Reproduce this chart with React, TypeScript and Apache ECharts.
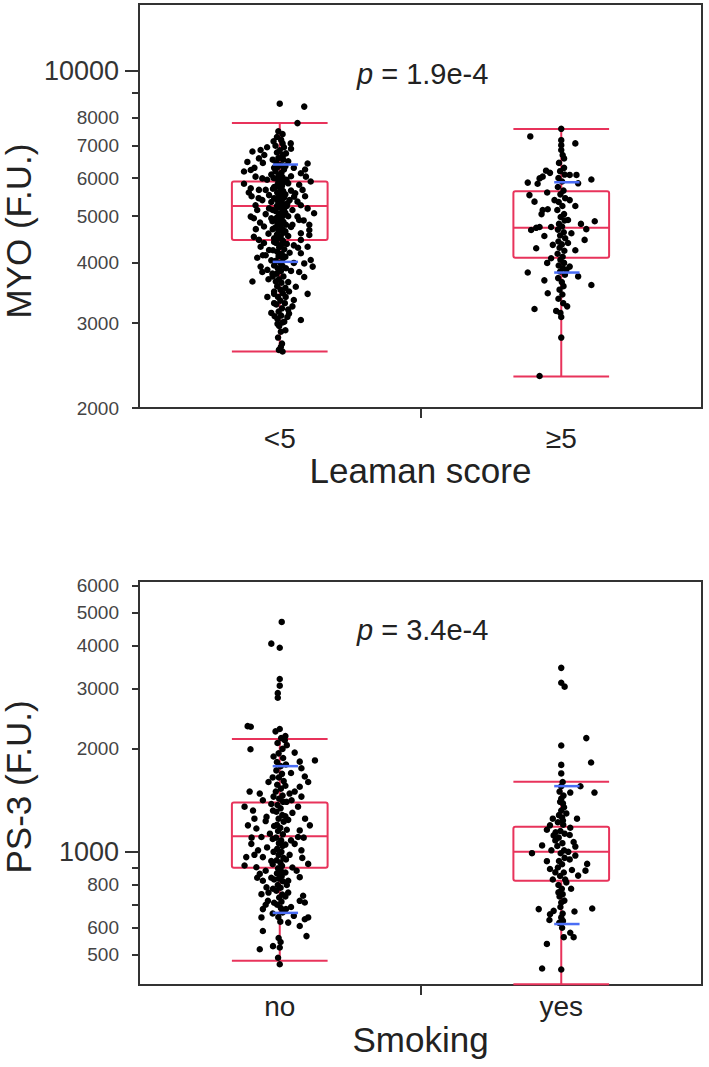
import React, { useEffect, useRef } from "react";
import * as echarts from "echarts";

const FONT = "'Liberation Sans', Arial, Helvetica, sans-serif";

// ---------- panel 1: MYO by Leaman score ----------
const myoCategories = ["<5", "≥5"];
const myoAxisName = "Leaman score";
const myoYName = "MYO (F.U.)";
const myoP = "1.9e-4";
const myoRange = [2000, 13780];
const myoMajorTicks = [10000];
const myoMinorLabels = [2000, 3000, 4000, 5000, 6000, 7000, 8000];
const myoMinorTicks = [2000, 3000, 4000, 5000, 6000, 7000, 8000, 9000];
// [low whisker, Q1, median, Q3, high whisker]
const myoBoxes = [
  [2620, 4465, 5250, 5900, 7800],
  [2325, 4100, 4730, 5630, 7580],
];
// blue marks [lower, upper]
const myoMarks = [
  [4020, 6400],
  [3820, 5880],
];
// [jitter offset, value]
const myoPointsLow = [
  [0, 8560], [0.087, 8440], [0.063, 7800],
  [-0.097, 6810], [-0.068, 6860], [-0.115, 6480], [-0.074, 6590], [-0.127, 6190], [-0.103, 6235], [-0.086, 6040], [-0.062, 5990],
  [-0.127, 5840], [-0.103, 5715], [-0.074, 5670], [-0.05, 5670], [-0.038, 5530], [-0.062, 5400], [-0.086, 5270], [-0.038, 5190],
  [-0.103, 4990], [-0.092, 4950], [-0.056, 4760], [-0.026, 4880], [-0.092, 4530], [-0.074, 4465], [-0.056, 4400], [-0.068, 4320],
  [-0.038, 4255], [-0.068, 3930], [-0.062, 3830], [-0.044, 3870], [-0.097, 3660], [-0.026, 3800], [-0.014, 3660], [-0.044, 3400], [-0.02, 3490],
  [0.01, 7080], [0.039, 7080], [0.01, 6640], [0.099, 6430], [0.075, 6140], [0.093, 6040], [0.11, 5900], [0.069, 5810], [0.081, 5670],
  [0.051, 5490], [0.063, 5360], [0.027, 5320], [0.075, 5270], [0.099, 5190], [0.122, 5070], [0.063, 4990], [0.069, 4910], [0.045, 4800],
  [0.105, 4800], [0.105, 4680], [0.075, 4610], [0.105, 4570], [0.075, 4465], [0.099, 4320], [0.075, 4190], [0.11, 4055], [0.087, 3990],
  [0.069, 3830], [0.087, 3740], [0.117, 3930], [0.057, 3570], [0.099, 3450], [0.033, 3490], [0.021, 3400], [0.045, 3250], [0.033, 3140],
  [0.075, 3045], [0.027, 3090], [-0.008, 2990], [0.004, 2680], [0.01, 2620],
  [-0.045, 6950], [-0.055, 6700], [-0.02, 6300], [-0.03, 6100], [-0.045, 5950], [-0.11, 5600], [-0.02, 5750], [-0.075, 5450], [-0.03, 5350],
  [-0.05, 5050], [-0.03, 4950], [-0.07, 4850], [-0.04, 4600], [-0.02, 4500], [-0.05, 4150], [-0.03, 4050], [-0.08, 4100], [-0.04, 3700],
  [-0.02, 3300], [-0.03, 3150],
  [0.04, 6900], [0.03, 6500], [0.05, 6300], [0.04, 6050], [0.03, 5850], [0.04, 5650], [0.055, 5580], [0.035, 5400], [0.045, 5150],
  [0.03, 5000], [0.04, 4750], [0.03, 4550], [0.05, 4350], [0.035, 4200], [0.05, 4000], [0.04, 3850], [0.03, 3650], [0.05, 3350],
  [0.03, 3200], [0.02, 2900],
  [-0.022, 7150], [0.022, 6750], [-0.025, 6550], [0.02, 6350], [-0.022, 6000], [0.024, 5950], [-0.024, 5700], [0.02, 5550],
  [-0.02, 5450], [0.025, 5250], [-0.025, 5150], [0.02, 5080], [-0.022, 4900], [0.022, 4800], [-0.025, 4700], [0.02, 4650],
  [-0.02, 4420], [0.025, 4380], [-0.024, 4250], [0.02, 4120], [-0.02, 3950], [0.022, 3900], [-0.025, 3750], [0.02, 3550],
  [-0.02, 3450], [0.018, 3300], [-0.018, 3100], [0.016, 3020], [-0.09, 6300], [-0.1, 5500], [0.09, 5500], [0.085, 4900],
  [-0.085, 4700], [-0.06, 4150], [0.065, 4300], [-0.08, 5150], [0.09, 6250], [-0.06, 6450],
  [-0.005, 7500], [0.01, 7400], [-0.01, 7300], [0.005, 7200], [-0.015, 7000], [0.015, 6950], [0, 6850], [-0.01, 6780], [0.01, 6700],
  [-0.005, 6600], [0.012, 6550], [-0.012, 6450], [0.003, 6380], [-0.008, 6320], [0.015, 6250], [-0.015, 6200], [0.006, 6150],
  [-0.004, 6080], [0.01, 6020], [-0.012, 5980], [0.002, 5930], [0.014, 5880], [-0.007, 5830], [0.008, 5780], [-0.016, 5740],
  [0.003, 5700], [0.012, 5640], [-0.009, 5600], [0.005, 5560], [-0.003, 5510], [0.016, 5470], [-0.013, 5430], [0.007, 5390],
  [-0.005, 5340], [0.011, 5300], [-0.01, 5250], [0.002, 5210], [0.015, 5170], [-0.014, 5120], [0.006, 5080], [-0.002, 5040],
  [0.01, 5000], [-0.011, 4960], [0.004, 4920], [0.013, 4870], [-0.007, 4830], [0.001, 4790], [-0.015, 4740], [0.009, 4700],
  [-0.004, 4660], [0.014, 4620], [-0.01, 4580], [0.003, 4540], [-0.006, 4490], [0.011, 4450], [-0.013, 4400], [0.005, 4360],
  [-0.002, 4310], [0.016, 4270], [-0.009, 4220], [0.007, 4180], [-0.004, 4130], [0.012, 4090], [-0.014, 4040], [0.002, 4000],
  [0.009, 3950], [-0.007, 3900], [0.004, 3850], [-0.011, 3800], [0.013, 3750], [-0.003, 3700], [0.006, 3640], [-0.009, 3580],
  [0.003, 3520], [0.011, 3460], [-0.006, 3400], [0.002, 3340], [-0.012, 3280], [0.008, 3220], [-0.004, 3170], [0.005, 3110],
  [-0.008, 3060], [0.01, 3010], [-0.002, 2960], [0.004, 2880], [-0.006, 2800], [0.008, 2720], [-0.003, 2640],
];
const myoPointsHigh = [
  [0, 7590], [-0.11, 7320], [0, 7190], [0.05, 7080], [0, 7020], [0, 6860], [0.01, 6590], [-0.054, 6215], [-0.066, 6040],
  [-0.077, 5990], [-0.119, 5870], [-0.084, 5840], [0.03, 6090], [0.054, 6090], [0.107, 5960], [-0.113, 5530], [-0.095, 5360],
  [0.03, 5400], [-0.024, 5400], [-0.066, 5150], [-0.048, 5170], [0.024, 4910], [-0.077, 4750], [-0.089, 4730], [-0.107, 4680],
  [-0.036, 4750], [0.119, 4880], [0.089, 4700], [0.036, 4610], [0.083, 4465], [0.024, 4400], [-0.03, 4360], [-0.089, 4290],
  [-0.036, 4090], [0.03, 3930], [0.018, 3870], [-0.119, 3820], [-0.06, 3680], [0.107, 3600], [-0.048, 3460], [-0.095, 3210],
  [-0.018, 3180], [0.021, 3250], [0, 3090], [0, 2800], [-0.077, 2330],
  [0.005, 6700], [-0.008, 6450], [0.01, 6300], [-0.004, 6200], [0.012, 6100], [-0.01, 6000], [0.003, 5900], [-0.012, 5750],
  [0.008, 5650], [-0.003, 5550], [0.014, 5450], [-0.009, 5350], [0.004, 5250], [-0.014, 5150], [0.01, 5050], [-0.002, 4980],
  [0.012, 4900], [-0.008, 4820], [0.003, 4760], [-0.012, 4690], [0.009, 4630], [-0.004, 4560], [0.014, 4500], [-0.01, 4430],
  [0.002, 4370], [-0.006, 4300], [0.011, 4240], [-0.013, 4180], [0.005, 4120], [-0.003, 4060], [0.01, 4000], [-0.009, 3950],
  [0.006, 3900], [-0.004, 3840], [0.013, 3780], [-0.011, 3720], [0.002, 3650], [0.008, 3580], [-0.006, 3520], [0.004, 3440],
  [-0.01, 3370], [0.007, 3300], [-0.003, 3150],
  [-0.04, 6150], [0.06, 5850], [-0.05, 5600], [0.05, 5250], [-0.07, 5050], [0.07, 4820], [-0.06, 4550], [0.05, 4250],
  [-0.05, 4000], [0.06, 3750],
];

// ---------- panel 2: PS-3 by smoking ----------
const ps3Categories = ["no", "yes"];
const ps3AxisName = "Smoking";
const ps3YName = "PS-3 (F.U.)";
const ps3P = "3.4e-4";
const ps3Range = [408, 6190];
const ps3MajorTicks = [1000];
const ps3MinorLabels = [500, 600, 800, 2000, 3000, 4000, 5000, 6000];
const ps3MinorTicks = [500, 600, 700, 800, 900, 2000, 3000, 4000, 5000, 6000];
const ps3Boxes = [
  [480, 898, 1111, 1394, 2136],
  [410, 823, 1000, 1183, 1602],
];
const ps3Marks = [
  [663, 1780],
  [615, 1556],
];
const ps3PointsNo = [
  [0.007, 4700], [-0.03, 4060], [0, 3950], [0, 3200], [0, 3060], [-0.007, 2910], [-0.007, 2820], [-0.114, 2330], [-0.103, 2320],
  [0, 2285], [-0.104, 1995], [0.018, 2120], [0.125, 1850], [0.053, 1950],
  [0.071, 1835], [0.077, 1755], [0.089, 1660], [0.101, 1600], [0.071, 1550], [0.053, 1500], [0.077, 1450], [0.042, 1415],
  [0.065, 1355], [0.107, 1195], [0.071, 1155], [0.065, 1105], [0.053, 1055], [0.077, 1010], [0.101, 922], [0.071, 843],
  [0.03, 823], [0.083, 744], [0.071, 719], [0.089, 711], [0.101, 643], [0.089, 635], [0.071, 607], [0.095, 567], [0.03, 621],
  [-0.107, 1500], [-0.071, 1480], [-0.06, 1415], [-0.125, 1355], [-0.095, 1320], [-0.047, 1265], [-0.113, 1195], [-0.083, 1170],
  [-0.065, 1105], [-0.101, 1055], [-0.077, 1010], [-0.119, 965], [-0.06, 965], [-0.125, 912], [-0.083, 901], [-0.071, 862],
  [-0.06, 823], [-0.047, 787], [-0.065, 752], [-0.042, 719], [-0.06, 680], [-0.065, 643], [-0.06, 587], [-0.071, 519],
  [-0.024, 530], [0, 525], [-0.006, 490], [0, 469],
  [-0.04, 1600], [-0.03, 1380], [-0.05, 1230], [-0.035, 1130], [-0.045, 1030], [-0.03, 940], [-0.05, 880], [-0.03, 840],
  [-0.04, 760], [0.04, 1700], [0.035, 1480], [0.045, 1300], [0.03, 1240], [0.04, 1080], [0.035, 980], [0.045, 900], [0.03, 760],
  [0.04, 690], [0.025, 2050],
  [-0.022, 1900], [0.022, 1800], [-0.025, 1650], [0.02, 1560], [-0.022, 1450], [0.024, 1400], [-0.024, 1320], [0.02, 1270],
  [-0.02, 1190], [0.025, 1160], [-0.025, 1090], [0.02, 1050], [-0.022, 1000], [0.022, 950], [-0.025, 920], [0.02, 870],
  [-0.02, 830], [0.025, 800], [-0.024, 780], [0.02, 740], [-0.02, 710], [0.022, 680], [-0.025, 660], [-0.09, 1250],
  [0.09, 1250], [-0.1, 1100], [0.085, 1100], [-0.09, 980], [0.08, 960], [-0.08, 840], [0.06, 880], [-0.05, 700], [0.05, 650],
  [0.02, 2180], [-0.015, 2250],
  [0.005, 2150], [-0.008, 2080], [0.01, 2000], [-0.004, 1940], [0.012, 1880], [-0.01, 1830], [0.003, 1780], [-0.012, 1730],
  [0.008, 1690], [-0.003, 1650], [0.014, 1610], [-0.009, 1570], [0.004, 1530], [-0.014, 1500], [0.01, 1460], [-0.002, 1430],
  [0.012, 1400], [-0.008, 1370], [0.003, 1340], [-0.012, 1310], [0.009, 1280], [-0.004, 1250], [0.014, 1225], [-0.01, 1200],
  [0.002, 1175], [-0.006, 1150], [0.011, 1125], [-0.013, 1100], [0.005, 1080], [-0.003, 1060], [0.01, 1040], [-0.009, 1020],
  [0.006, 1000], [-0.004, 980], [0.013, 960], [-0.011, 945], [0.002, 930], [0.008, 910], [-0.006, 895], [0.004, 880],
  [-0.01, 865], [0.007, 850], [-0.003, 835], [0.011, 820], [-0.007, 800], [0.003, 785], [-0.012, 770], [0.009, 750],
  [-0.002, 735], [0.006, 715], [-0.009, 700], [0.004, 685], [0.01, 665], [-0.005, 645], [0.002, 625], [-0.004, 560], [0.003, 545],
];
const ps3PointsYes = [
  [0, 3450], [0, 3120], [0.012, 3040], [0.089, 2150], [0, 2045], [0.106, 1825], [0, 1795], [0, 1695], [0, 1555], [0.068, 1555],
  [0.032, 1490], [0.118, 1490], [0, 1430], [0.006, 1385], [0, 1320], [0.018, 1295], [0.006, 1235], [0.056, 1250], [-0.04, 1195],
  [-0.051, 1160], [0.032, 1176], [-0.027, 1117], [-0.021, 1080], [-0.068, 1044], [0.044, 1068], [0.05, 1036], [-0.104, 991],
  [-0.051, 939], [0.05, 975], [0.092, 922], [-0.04, 891], [0.086, 881], [-0.021, 871], [0.038, 885], [0.06, 852], [0.018, 814],
  [-0.01, 761], [0.005, 752], [0, 711], [-0.08, 680], [-0.027, 672], [-0.04, 657], [0.047, 669], [0.11, 683], [-0.042, 632],
  [0, 643], [0.006, 628], [0.032, 580], [0.044, 563], [0.009, 563], [-0.051, 538], [-0.068, 456], [0, 453],
  [0.005, 1600], [-0.006, 1500], [0.008, 1460], [-0.004, 1400], [0.01, 1350], [-0.008, 1280], [0.003, 1260], [-0.012, 1220],
  [0.007, 1200], [-0.003, 1150], [0.012, 1130], [-0.009, 1100], [0.004, 1060], [-0.014, 1040], [0.01, 1010], [-0.002, 990],
  [0.012, 960], [-0.008, 940], [0.003, 920], [-0.012, 900], [0.009, 870], [-0.004, 850], [0.014, 830], [-0.01, 800],
  [0.002, 780], [-0.006, 740], [0.011, 720], [-0.003, 690], [0.005, 660], [-0.007, 620], [0.003, 600],
  [-0.03, 1250], [0.03, 1120], [-0.035, 1010], [0.03, 950], [-0.03, 830], [0.035, 780], [-0.02, 1140], [0.025, 1000],
];

const BOX_COLOR = "#e8335b";
const MARK_COLOR = "#4a6df5";
const FRAME = "#333";

const lg = (v: number) => Math.log10(v);

type Panel = {
  cats: string[];
  axisName: string;
  range: number[];
  major: number[];
  minorLabels: number[];
  minorTicks: number[];
  boxes: number[][];
  marks: number[][];
  points: number[][][];
  gridTop: number;
  labelMargin: number;
  nameGap: number;
};

const panels: Panel[] = [
  {
    cats: myoCategories, axisName: myoAxisName, range: myoRange, major: myoMajorTicks,
    minorLabels: myoMinorLabels, minorTicks: myoMinorTicks, boxes: myoBoxes, marks: myoMarks,
    points: [myoPointsLow, myoPointsHigh], gridTop: 4, labelMargin: 16, nameGap: 43,
  },
  {
    cats: ps3Categories, axisName: ps3AxisName, range: ps3Range, major: ps3MajorTicks,
    minorLabels: ps3MinorLabels, minorTicks: ps3MinorTicks, boxes: ps3Boxes, marks: ps3Marks,
    points: [ps3PointsNo, ps3PointsYes], gridTop: 581, labelMargin: 7, nameGap: 37,
  },
];

function buildOption() {
  const grid: any[] = [];
  const xAxis: any[] = [];
  const yAxis: any[] = [];
  const series: any[] = [];

  panels.forEach((p, i) => {
    grid.push({
      left: 139, top: p.gridTop, width: 563, height: 404,
      show: true, borderColor: FRAME, borderWidth: 2, backgroundColor: "transparent",
    });
    xAxis.push({
      gridIndex: i, type: "value", min: -0.5, max: 1.5,
      axisLine: { show: true, onZero: false, lineStyle: { color: FRAME, width: 2 } },
      axisTick: { show: true, customValues: [0.5], length: 10, lineStyle: { color: FRAME, width: 2 } },
      axisLabel: {
        customValues: [0, 1], formatter: (v: number) => p.cats[Math.round(v)],
        fontSize: 28, color: "#222", margin: p.labelMargin, fontFamily: FONT,
      },
      splitLine: { show: false },
      name: p.axisName, nameLocation: "middle", nameGap: p.nameGap,
      nameTextStyle: { fontSize: 35, color: "#222", fontFamily: FONT },
    });
    const ymin = lg(p.range[0]);
    const ymax = lg(p.range[1]);
    const fmt = (v: number) => String(Math.round(Math.pow(10, v)));
    yAxis.push({
      gridIndex: i, type: "value", min: ymin, max: ymax, position: "left",
      axisLine: { show: true, onZero: false, lineStyle: { color: FRAME, width: 2 } },
      axisTick: { show: true, customValues: p.major.map(lg), length: 14, lineStyle: { color: FRAME, width: 2 } },
      axisLabel: { customValues: p.major.map(lg), formatter: fmt, fontSize: 27, color: "#333", margin: 20, fontFamily: FONT },
      splitLine: { show: false },
    });
    yAxis.push({
      gridIndex: i, type: "value", min: ymin, max: ymax, position: "left",
      axisLine: { show: false, onZero: false },
      axisTick: { show: true, customValues: p.minorTicks.map(lg), length: 7, lineStyle: { color: FRAME, width: 2 } },
      axisLabel: { customValues: p.minorLabels.map(lg), formatter: fmt, fontSize: 19, color: "#444", margin: 20, fontFamily: FONT },
      splitLine: { show: false },
    });

    // boxes
    series.push({
      type: "custom", xAxisIndex: i, yAxisIndex: 2 * i, z: 2, clip: false,
      data: p.boxes.map((b, k) => [k, ...b.map(lg)]),
      encode: { x: 0, y: [1, 2, 3, 4, 5] },
      renderItem: (params: any, api: any) => {
        const x = api.value(0);
        const hw = 0.17;
        const lo = api.coord([x, api.value(1)]);
        const q1 = api.coord([x, api.value(2)]);
        const md = api.coord([x, api.value(3)]);
        const q3 = api.coord([x, api.value(4)]);
        const hi = api.coord([x, api.value(5)]);
        const left = api.coord([x - hw, api.value(3)])[0];
        const right = api.coord([x + hw, api.value(3)])[0];
        const st = { stroke: BOX_COLOR, lineWidth: 2, fill: "none" };
        return {
          type: "group",
          children: [
            { type: "line", shape: { x1: lo[0], y1: lo[1], x2: q1[0], y2: q1[1] }, style: st },
            { type: "line", shape: { x1: q3[0], y1: q3[1], x2: hi[0], y2: hi[1] }, style: st },
            { type: "line", shape: { x1: left, y1: lo[1], x2: right, y2: lo[1] }, style: st },
            { type: "line", shape: { x1: left, y1: hi[1], x2: right, y2: hi[1] }, style: st },
            { type: "rect", shape: { x: left, y: q3[1], width: right - left, height: q1[1] - q3[1], r: 2 }, style: st },
            { type: "line", shape: { x1: left, y1: md[1], x2: right, y2: md[1] }, style: st },
          ],
        };
      },
    });

    // points
    p.points.forEach((pts, k) => {
      series.push({
        type: "scatter", xAxisIndex: i, yAxisIndex: 2 * i, z: 3,
        symbolSize: 6.5, itemStyle: { color: "#000", opacity: 1 },
        data: pts.map(([dx, v]) => [k + dx, lg(v)]),
      });
    });

    // blue marks
    series.push({
      type: "custom", xAxisIndex: i, yAxisIndex: 2 * i, z: 4,
      data: p.marks.map((m, k) => [k, lg(m[0]), lg(m[1])]),
      encode: { x: 0, y: [1, 2] },
      renderItem: (params: any, api: any) => {
        const x = api.value(0);
        const a = api.coord([x - 0.025, api.value(1)]);
        const b = api.coord([x + 0.065, api.value(1)]);
        const c = api.coord([x - 0.025, api.value(2)]);
        const d = api.coord([x + 0.065, api.value(2)]);
        const st = { stroke: MARK_COLOR, lineWidth: 2.5 };
        return {
          type: "group",
          children: [
            { type: "line", shape: { x1: a[0], y1: a[1], x2: b[0], y2: b[1] }, style: st },
            { type: "line", shape: { x1: c[0], y1: c[1], x2: d[0], y2: d[1] }, style: st },
          ],
        };
      },
    });
  });

  const pText = (val: string, y: number) => ({
    type: "text", x: 357, y,
    style: {
      text: "{i|p} = " + val,
      rich: { i: { fontStyle: "italic", fontSize: 29, fontFamily: FONT, fill: "#222" } },
      fontSize: 29, fontFamily: FONT, fill: "#222",
      align: "left", verticalAlign: "middle", textAlign: "left", textVerticalAlign: "middle",
    },
  });
  const yName = (t: string, y: number) => ({
    type: "text", x: 18, y, rotation: Math.PI / 2,
    style: {
      text: t, fontSize: 35, fontFamily: FONT, fill: "#222",
      align: "center", verticalAlign: "middle", textAlign: "center", textVerticalAlign: "middle",
    },
  });

  return {
    animation: false,
    backgroundColor: "#fff",
    textStyle: { fontFamily: FONT },
    grid, xAxis, yAxis, series,
    graphic: [pText(myoP, 74), pText(ps3P, 630), yName(myoYName, 231), yName(ps3YName, 787)],
  };
}

export default function App() {
  const ref = useRef<HTMLDivElement>(null);
  useEffect(() => {
    if (!ref.current) return;
    const chart = echarts.init(ref.current, undefined, { renderer: "svg" });
    chart.setOption(buildOption() as any);
    return () => chart.dispose();
  }, []);
  return (
    <div
      ref={ref}
      style={{ position: "fixed", left: 0, top: 0, width: 709, height: 1067, background: "#fff" }}
    />
  );
}
